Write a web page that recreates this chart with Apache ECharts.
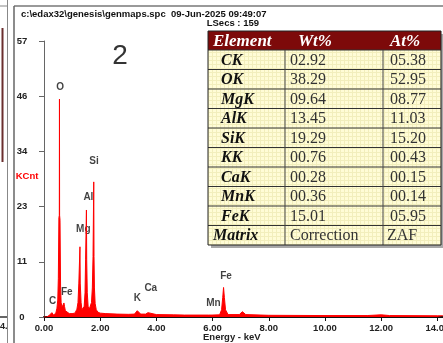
<!DOCTYPE html>
<html>
<head>
<meta charset="utf-8">
<script src="https://cdn.jsdelivr.net/npm/echarts@6/dist/echarts.min.js"></script>
<style>
  html, body { margin: 0; padding: 0; background: #fff; }
  #main { width: 443px; height: 343px; }
</style>
</head>
<body>
<div id="main"></div>
<script>
(function() {
    // spectrum (keV, KCnt)
    var energy = [0.00, 0.10, 0.18, 0.24, 0.28, 0.31, 0.34, 0.38, 0.42, 0.46, 0.49, 0.51, 0.53, 0.545, 0.55, 0.555, 0.57, 0.59, 0.61, 0.64, 0.66, 0.69, 0.71, 0.73, 0.76, 0.80, 0.90, 1.00, 1.10, 1.17, 1.21, 1.24, 1.27, 1.28, 1.29, 1.32, 1.35, 1.39, 1.43, 1.46, 1.48, 1.50, 1.51, 1.52, 1.54, 1.57, 1.61, 1.65, 1.69, 1.72, 1.745, 1.76, 1.77, 1.78, 1.795, 1.82, 1.86, 1.92, 2.00, 2.20, 2.60, 3.00, 3.22, 3.28, 3.32, 3.36, 3.44, 3.62, 3.70, 3.76, 4.00, 4.60, 5.00, 5.85, 5.92, 5.98, 6.25, 6.32, 6.36, 6.39, 6.42, 6.46, 6.55, 6.95, 7.02, 7.06, 7.10, 7.18, 8.00, 10.00, 11.50, 12.00, 12.30, 14.00, 14.20];
    var counts = [0.0, 0.0, 0.3, 0.6, 0.9, 0.6, 0.4, 0.5, 0.8, 1.8, 3.5, 8.0, 20.5, 21.0, 45.0, 21.0, 20.0, 6.0, 3.0, 2.0, 1.6, 2.2, 2.9, 2.2, 1.3, 0.9, 0.7, 0.7, 0.8, 1.6, 3.0, 7.0, 7.0, 14.5, 7.0, 3.0, 1.5, 1.3, 2.2, 5.0, 11.8, 11.8, 22.1, 11.8, 5.0, 2.2, 1.6, 1.7, 3.0, 6.0, 12.5, 12.5, 27.9, 12.5, 6.0, 2.8, 1.5, 1.0, 0.8, 0.7, 0.6, 0.55, 0.6, 0.9, 1.3, 0.9, 0.6, 0.6, 0.9, 0.6, 0.5, 0.45, 0.4, 0.4, 0.6, 0.4, 0.45, 1.5, 4.0, 6.1, 4.0, 1.5, 0.5, 0.5, 0.9, 1.1, 0.9, 0.5, 0.35, 0.3, 0.3, 0.45, 0.3, 0.25, 0.25];

    // peak labels
    var peakNames = ['C', 'O', 'Fe', 'Mg', 'Al', 'Si', 'K', 'Ca', 'Mn', 'Fe'];
    var peakKeV = [0.31, 0.57, 0.81, 1.40, 1.58, 1.78, 3.32, 3.80, 6.03, 6.48];
    var peakLabelCnt = [3.2, 47.5, 5.1, 18.1, 24.7, 32.1, 3.9, 5.9, 2.8, 8.5];

    // axes
    var xTicks = [0, 2, 4, 6, 8, 10, 12, 14];
    var yMax = 57;
    var yStep = 11.4;

    // quantification table
    var tableHead = ['Element', 'Wt%', 'At%'];
    var elements = ['CK', 'OK', 'MgK', 'AlK', 'SiK', 'KK', 'CaK', 'MnK', 'FeK', 'Matrix'];
    var wtPct = ['02.92', '38.29', '09.64', '13.45', '19.29', '00.76', '00.28', '00.36', '15.01', 'Correction'];
    var atPct = ['05.38', '52.95', '08.77', '11.03', '15.20', '00.43', '00.15', '00.14', '05.95', 'ZAF'];

    var spectrum = energy.map(function(e, i) { return [e, counts[i]]; });
    var peakLabels = peakNames.map(function(n, i) { return [peakKeV[i], peakLabelCnt[i], n]; });

    var sans = 'Liberation Sans, Arial, sans-serif';
    var serif = 'Liberation Serif, Times New Roman, serif';

    // pale checkered fill of the table cells
    var pat = document.createElement('canvas');
    pat.width = 4; pat.height = 4;
    var pc = pat.getContext('2d');
    pc.fillStyle = '#fffcd6';
    pc.fillRect(0, 0, 4, 4);
    pc.fillStyle = '#f2eebc';
    pc.fillRect(0, 0, 4, 1);
    pc.fillRect(0, 0, 1, 4);

    // table drawn with graphic elements
    var g = [];
    var tx = 208, ty = 31, headH = 19, rowH = 19.5;
    var colX = [208, 285, 383, 441];
    var tableBottom = ty + headH + rowH * elements.length;
    g.push({ type: 'rect', shape: { x: tx + 3, y: ty + 3, width: colX[3] - tx, height: tableBottom - ty }, style: { fill: '#a8a8a8' }, silent: true });
    g.push({ type: 'rect', shape: { x: tx, y: ty, width: colX[3] - tx, height: headH }, style: { fill: '#7d0a0a' }, silent: true });
    g.push({ type: 'rect', shape: { x: tx, y: ty + headH, width: colX[3] - tx, height: tableBottom - ty - headH }, style: { fill: { image: pat, repeat: 'repeat' } }, silent: true });
    var headX = [213, 298, 390];
    tableHead.forEach(function(h, j) {
        g.push({ type: 'text', x: headX[j], y: ty + headH / 2 + 1, silent: true,
            style: { text: h, fill: '#ffffff', font: 'italic bold 17px ' + serif, textAlign: 'left', textVerticalAlign: 'middle' } });
    });
    elements.forEach(function(el, i) {
        var cy = ty + headH + rowH * i + rowH / 2 + 1;
        var nx = (el === 'Matrix') ? 213 : 221;
        g.push({ type: 'text', x: nx, y: cy, silent: true,
            style: { text: el, fill: '#111', font: 'italic bold 16px ' + serif, textAlign: 'left', textVerticalAlign: 'middle' } });
        g.push({ type: 'text', x: 290, y: cy, silent: true,
            style: { text: wtPct[i], fill: '#333', font: '16px ' + serif, textAlign: 'left', textVerticalAlign: 'middle' } });
        g.push({ type: 'text', x: (i === elements.length - 1) ? 387 : 390, y: cy, silent: true,
            style: { text: atPct[i], fill: '#333', font: '16px ' + serif, textAlign: 'left', textVerticalAlign: 'middle' } });
        g.push({ type: 'line', shape: { x1: tx, y1: ty + headH + rowH * i, x2: colX[3], y2: ty + headH + rowH * i }, style: { stroke: '#333', lineWidth: 1 }, silent: true });
    });
    [colX[1], colX[2]].forEach(function(x) {
        g.push({ type: 'line', shape: { x1: x, y1: ty + headH, x2: x, y2: tableBottom }, style: { stroke: '#444', lineWidth: 1 }, silent: true });
    });
    g.push({ type: 'rect', shape: { x: tx, y: ty, width: colX[3] - tx, height: tableBottom - ty }, style: { fill: 'none', stroke: '#222', lineWidth: 1 }, silent: true });

    // frame, headings and neighbour panel edge
    g.push({ type: 'line', shape: { x1: 14, y1: 6, x2: 443, y2: 6 }, style: { stroke: '#777', lineWidth: 1.5 }, silent: true });
    g.push({ type: 'line', shape: { x1: 14, y1: 6, x2: 14, y2: 343 }, style: { stroke: '#666', lineWidth: 1.5 }, silent: true });
    g.push({ type: 'line', shape: { x1: 7.5, y1: 0, x2: 7.5, y2: 343 }, style: { stroke: '#888', lineWidth: 1 }, silent: true });
    g.push({ type: 'line', shape: { x1: 0, y1: 6, x2: 7, y2: 6 }, style: { stroke: '#888', lineWidth: 1 }, silent: true });
    g.push({ type: 'line', shape: { x1: 2.5, y1: 28, x2: 2.5, y2: 162 }, style: { stroke: '#6b2f2f', lineWidth: 2 }, silent: true });
    g.push({ type: 'line', shape: { x1: 0, y1: 317, x2: 7, y2: 317 }, style: { stroke: '#333', lineWidth: 1.5 }, silent: true });
    g.push({ type: 'text', x: 0, y: 327, silent: true,
        style: { text: '4.', fill: '#222', font: 'bold 9px ' + sans, textAlign: 'left', textVerticalAlign: 'middle' } });
    g.push({ type: 'text', x: 21, y: 14, silent: true,
        style: { text: 'c:\\edax32\\genesis\\genmaps.spc  09-Jun-2025 09:49:07', fill: '#111', font: 'bold 9.5px ' + sans, textAlign: 'left', textVerticalAlign: 'middle' } });
    g.push({ type: 'text', x: 259, y: 23, silent: true,
        style: { text: 'LSecs : 159', fill: '#111', font: 'bold 9.5px ' + sans, textAlign: 'right', textVerticalAlign: 'middle' } });
    g.push({ type: 'text', x: 120, y: 56, silent: true,
        style: { text: '2', fill: '#333', font: '28px ' + sans, textAlign: 'center', textVerticalAlign: 'middle' } });
    g.push({ type: 'text', x: 203, y: 337, silent: true,
        style: { text: 'Energy - keV', fill: '#222', font: 'bold 9.5px ' + sans, textAlign: 'left', textVerticalAlign: 'middle' } });
    g.push({ type: 'text', x: 27, y: 176, silent: true,
        style: { text: 'KCnt', fill: '#ff0000', font: 'bold 9.5px ' + sans, textAlign: 'center', textVerticalAlign: 'middle' } });

    var myChart = echarts.init(document.getElementById('main'));

    var option = {
        animation: false,
        backgroundColor: '#ffffff',
        grid: { left: 44, right: 0, top: 41, bottom: 26, containLabel: false, outerBoundsMode: 'none' },
        xAxis: {
            type: 'value',
            min: 0,
            max: 14.2,
            axisLine: { lineStyle: { color: '#111', width: 2 } },
            axisTick: { customValues: xTicks, length: 4, lineStyle: { color: '#111' } },
            axisLabel: {
                customValues: xTicks,
                margin: 6,
                color: '#222',
                fontFamily: sans,
                fontWeight: 'bold',
                fontSize: 9.5,
                formatter: function(v) { return v.toFixed(2); }
            },
            splitLine: { show: false }
        },
        yAxis: {
            type: 'value',
            min: 0,
            max: yMax,
            interval: yStep,
            axisLine: { show: true, lineStyle: { color: '#666', width: 1 } },
            axisTick: { show: true, length: 5, lineStyle: { color: '#666' } },
            axisLabel: {
                margin: 22,
                align: 'center',
                color: '#222',
                fontFamily: sans,
                fontWeight: 'bold',
                fontSize: 9.5,
                formatter: function(v) { return String(Math.round(v)); }
            },
            splitLine: { show: false }
        },
        series: [
            {
                name: 'spectrum',
                type: 'line',
                data: spectrum,
                symbol: 'none',
                lineStyle: { color: '#ff0000', width: 1 },
                areaStyle: { color: '#ff0000', opacity: 1 },
                silent: true
            },
            {
                name: 'peaks',
                type: 'scatter',
                data: peakLabels,
                symbolSize: 0,
                silent: true,
                label: {
                    show: true,
                    position: 'inside',
                    color: '#111',
                    fontFamily: sans,
                    fontWeight: 'bold',
                    fontSize: 10,
                    formatter: function(p) { return p.data[2]; }
                }
            }
        ],
        graphic: g
    };

    myChart.setOption(option);
})();
</script>
</body>
</html>
